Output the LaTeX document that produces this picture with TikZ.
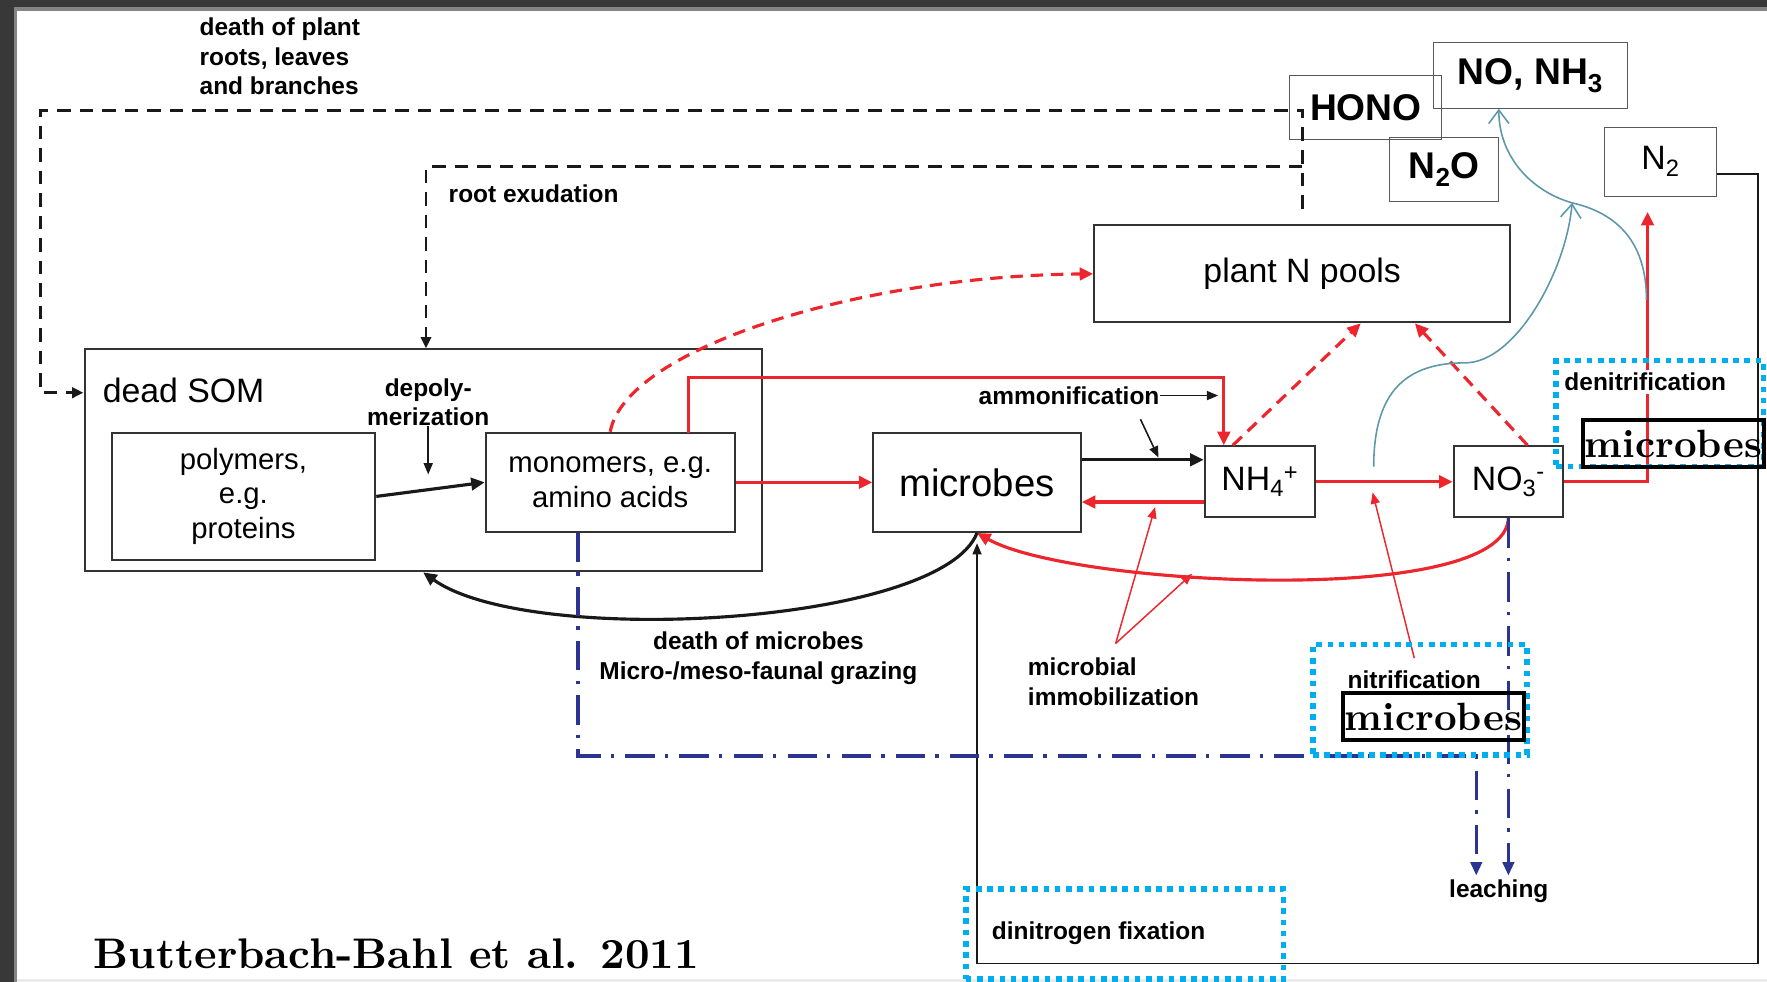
\documentclass[tikz,border=0pt]{standalone}
\usepackage{fontspec}
\setsansfont{Liberation Sans}
\newfontfamily\citefont{lmroman10-bold.otf}
\usetikzlibrary{arrows.meta,positioning}
\definecolor{fluxred}{RGB}{236,38,44}
\definecolor{leachblue}{RGB}{43,52,145}
\definecolor{gasteal}{RGB}{92,152,170}
\definecolor{procblue}{RGB}{0,174,239}
\tikzset{
    poolbox/.style={rectangle,draw=black!80,line width=1.8pt,align=center,inner sep=0pt,font=\sffamily\fontsize{26}{31}\selectfont},
    pooltext/.style={inner sep=0pt,font=\sffamily\fontsize{30}{34}\selectfont},
    gasbox/.style={rectangle,draw=black!65,line width=1pt,align=center,inner sep=0pt,font=\sffamily\bfseries\fontsize{33}{36}\selectfont},
    flowlabel/.style={align=left,inner sep=0pt,font=\sffamily\bfseries\fontsize{21.7}{26}\selectfont},
    blackflow/.style={-{Triangle[length=12pt,width=11pt]},line width=2.8pt,black!90},
    thinflow/.style={-{Triangle[length=10pt,width=8pt]},line width=1.4pt,black!90},
    redflow/.style={-{Triangle[length=12pt,width=11pt]},line width=2.8pt,fluxred},
    reddash/.style={redflow,dash pattern=on 11pt off 7pt},
    thinred/.style={-{Triangle[length=10pt,width=8pt]},line width=1.3pt,fluxred},
    plantdash/.style={-{Triangle[length=10pt,width=9pt]},line width=2.5pt,black!90,dash pattern=on 12pt off 8pt},
    leachline/.style={-{Triangle[length=12pt,width=10pt]},line width=3pt,leachblue,dash pattern=on 26pt off 9pt on 3pt off 10pt},
    emitline/.style={-{Straight Barb[length=12pt,width=18pt]},line width=1.4pt,gasteal},
    procbox/.style={rectangle,draw=procblue,line width=5pt,dash pattern=on 5pt off 5pt,inner sep=0pt},
    microbox/.style={rectangle,draw=black,line width=3.5pt,inner sep=0pt,font=\citefont\fontsize{35}{38}\selectfont}
}
\begin{document}
\begin{tikzpicture}[x=1pt,y=-1pt]
    \useasboundingbox (0,0) rectangle (1568,871);
    \fill[black!78] (0,0) rectangle (1568,6);
    \fill[black!48] (12,6) rectangle (1568,10);
    \fill[black!78] (0,0) rectangle (12,871);
    \fill[black!48] (12,6) rectangle (15,871);
    \fill[black!8] (15,869) rectangle (1568,871);

    \node[poolbox,minimum width=601pt,minimum height=197pt] (som) at (375.5,408.5) {};
    \node[pooltext,anchor=west] (somname) at (91,346) {dead SOM};
    \node[poolbox,minimum width=234pt,minimum height=113pt] (poly) at (216,440.5) {polymers,\\e.g.\\proteins};
    \node[poolbox,minimum width=221pt,minimum height=88pt] (mono) at (541.5,428) {monomers, e.g.\\amino acids};
    \node[poolbox,minimum width=184pt,minimum height=88pt,font=\sffamily\fontsize{34}{38}\selectfont] (mic) at (867,428) {microbes};
    \node[poolbox,minimum width=98pt,minimum height=63pt,font=\sffamily\fontsize{30}{34}\selectfont] (nh) at (1118,427.5) {NH\textsubscript{4}\textsuperscript{+}};
    \node[poolbox,minimum width=97pt,minimum height=63pt,font=\sffamily\fontsize{30}{34}\selectfont] (no) at (1338.5,427.5) {NO\textsubscript{3}\textsuperscript{-}};
    \node[poolbox,minimum width=369pt,minimum height=86pt,font=\sffamily\fontsize{30}{34}\selectfont] (plant) at (1155.5,243) {plant N pools};
    \node[gasbox,minimum width=135pt,minimum height=57pt] (hono) at (1212,95.5) {HONO};
    \node[gasbox,minimum width=172pt,minimum height=58pt] (nonh) at (1358,67) {NO, NH\textsubscript{3}};
    \node[gasbox,minimum width=97pt,minimum height=57pt] (ntwoo) at (1281.5,150.5) {N\textsubscript{2}O};
    \node[gasbox,minimum width=99pt,minimum height=61pt,font=\sffamily\fontsize{30}{34}\selectfont] (ntwo) at (1473.5,143.5) {N\textsubscript{2}};

    \node[flowlabel,anchor=west] (plantdeath) at (177,50) {death of plant\\roots, leaves\\and branches};
    \node[flowlabel,anchor=west] (rootex) at (398,172) {root exudation};
    \node[flowlabel,align=center] (depol) at (380,357) {depoly-\\merization};
    \node[flowlabel,anchor=east] (amm) at (1029,351) {ammonification};
    \node[flowlabel,align=center] (faunal) at (673,584) {death of microbes\\Micro-/meso-faunal grazing};
    \node[flowlabel,anchor=west] (immo) at (912,605) {microbial\\immobilization};
    \node[flowlabel] (leach) at (1330,791) {leaching};

    \coordinate (dashtop) at (1155.5,98);
    \coordinate (dashleft) at (36,98);
    \coordinate (exudstart) at (1155.5,148);
    \coordinate (depoltip) at (380,421);
    \coordinate (redup) at (611,384);
    \coordinate (ammcorner) at (1086,335);
    \coordinate (ammtip) at (1081,351);
    \coordinate (ammfrom) at (1012,372);
    \coordinate (ammto) at (1028,406);
    \coordinate (dentip) at (1462,188);
    \coordinate (brcorner) at (1560,855);
    \coordinate (fixtip) at (867,482);
    \coordinate (leachcorner) at (1310,671);
    \coordinate (leachtip) at (1310,777);
    \coordinate (immsrc) at (990,571);
    \coordinate (immtipa) at (1025,450);
    \coordinate (immtipb) at (1058,509);
    \coordinate (nitrisrc) at (1255,584);
    \coordinate (nitritip) at (1218,437);
    \coordinate (gasfrom) at (1219,414);
    \coordinate (gasmeet) at (1395,180);
    \coordinate (denisrc) at (1461,266);

    \draw[plantdash] ([yshift=14pt]plant.north) -- (dashtop) -- (dashleft) |- ([yshift=60pt]som.west);
    \draw[plantdash] (exudstart) -| ([xshift=2.5pt]som.north);
    \draw[blackflow] (poly.east) -- (mono.west);
    \draw[thinflow] (depol.south) -- (depoltip);
    \draw[redflow] (mono.east) -- (mic.west);
    \draw[redflow] (redup) |- (ammcorner) -- (nh.north -| ammcorner);
    \draw[reddash] (mono.north) .. controls (555,310) and (760,245) .. (plant.west);
    \draw[blackflow] ([yshift=20pt]mic.east) -- ([yshift=20pt]mic.east -| nh.west);
    \draw[redflow] ([yshift=-18pt]nh.west) -- ([yshift=-18pt]nh.west -| mic.east);
    \draw[thinflow] (amm.east) -- (ammtip);
    \draw[thinflow] (ammfrom) -- (ammto);
    \draw[redflow] (nh.east) -- (no.west);
    \draw[reddash] ([xshift=-24pt]nh.north) -- ([xshift=52pt]plant.south);
    \draw[reddash] ([xshift=17pt]no.north) -- ([xshift=100pt]plant.south);
    \draw[redflow] (no.east) -| (dentip);
    \draw[redflow] (no.south) .. controls (1335,540) and (950,520) .. (mic.south);
    \draw[blackflow] (mic.south) .. controls (835,555) and (470,575) .. (som.south);
    \draw[thinflow] ([yshift=-11pt]ntwo.east) -| (brcorner) -| (fixtip);
    \draw[leachline] ([xshift=-28.5pt]mono.south) |- (leachcorner) -- (leachtip);
    \draw[leachline] (no.south) -- (no.south |- leachtip);
    \draw[thinred] (immsrc) -- (immtipa);
    \draw[thinred] (immsrc) -- (immtipb);
    \draw[thinred] (nitrisrc) -- (nitritip);
    \draw[emitline] (gasfrom) .. controls (1219,345) and (1250,322) .. (1300,322) .. controls (1345,322) and (1390,240) .. (gasmeet);
    \draw[emitline] (denisrc) .. controls (1461,210) and (1430,188) .. (gasmeet) .. controls (1360,170) and (1330,140) .. ([xshift=-28pt]nonh.south);

    \node[procbox,minimum width=184pt,minimum height=94pt] (denibox) at (1473,367) {};
    \node[flowlabel,fill=white,inner sep=3pt] (deni) at (1460,339) {denitrification};
    \node[microbox,minimum width=160pt,minimum height=41pt] (denimic) at (1485,393.5) {microbes};
    \node[procbox,minimum width=190pt,minimum height=98pt] (nitribox) at (1260,621) {};
    \node[flowlabel] (nitri) at (1255,603) {nitrification};
    \node[microbox,minimum width=160pt,minimum height=42pt] (nitrimic) at (1272,636) {microbes};
    \node[procbox,minimum width=282pt,minimum height=80pt] (fixbox) at (998,829) {};
    \node[flowlabel,anchor=west] (fix) at (880,828) {dinitrogen fixation};
    \node[anchor=west,inner sep=0pt,font=\citefont\fontsize{38}{40}\selectfont] (cite) at (83,846) {Butterbach-Bahl et al. 2011};
\end{tikzpicture}
\end{document}
